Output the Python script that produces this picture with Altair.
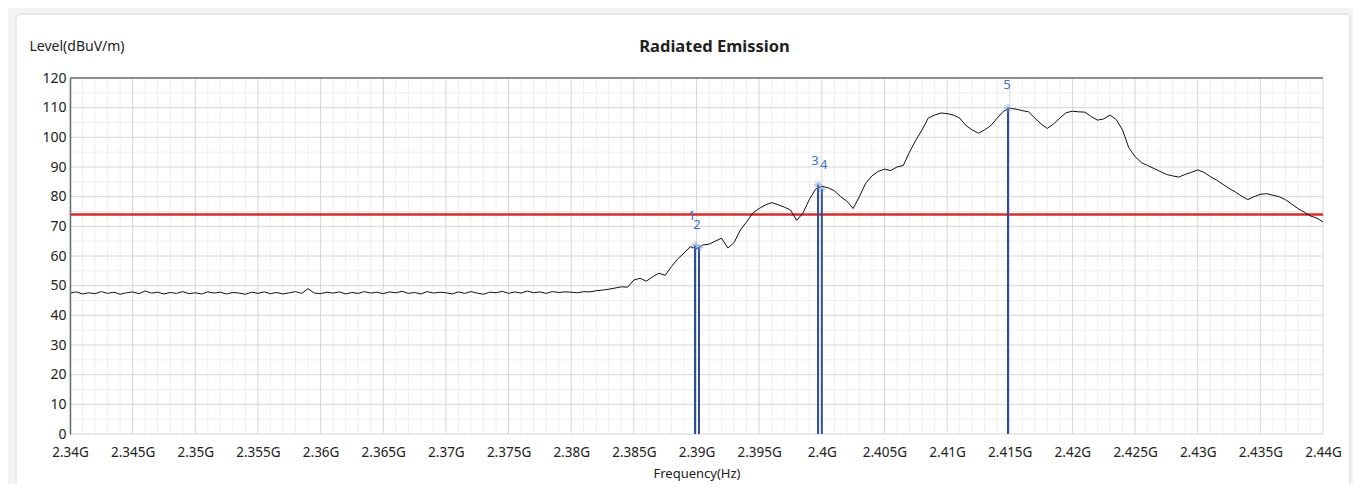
import altair as alt
import pandas as pd

# ---------------- data ----------------
FREQ_START = 2.340   # GHz
FREQ_STEP = 0.0005   # GHz sampling of the trace

level = [
    # 2.340 - 2.3445
    47.5, 47.9, 47.2, 47.6, 47.3, 48.0, 47.4, 47.8, 47.1, 47.6,
    # 2.345
    47.9, 47.3, 48.2, 47.5, 47.8, 47.2, 47.7, 47.4, 48.0, 47.3,
    # 2.350
    47.6, 47.2, 47.9, 47.5, 47.8, 47.2, 47.7, 47.5, 47.1, 47.8,
    # 2.355
    47.4, 47.9, 47.3, 47.7, 47.2, 47.6, 48.0, 47.4, 49.0, 47.5,
    # 2.360
    47.3, 47.8, 47.5, 47.9, 47.2, 47.7, 47.4, 48.0, 47.5, 47.8,
    # 2.365
    47.3, 47.9, 47.6, 48.1, 47.4, 47.7, 47.2, 48.0, 47.5, 47.8,
    # 2.370
    47.6, 47.2, 47.9, 47.4, 48.0, 47.5, 47.1, 47.8, 47.6, 48.1,
    # 2.375
    47.4, 47.9, 47.5, 48.2, 47.6, 47.9, 47.4, 48.0, 47.7, 47.9,
    # 2.380
    47.8, 47.6, 48.0, 47.9, 48.3, 48.5, 48.8, 49.2, 49.6, 49.5,
    # 2.385
    51.9, 52.5, 51.5, 53.0, 54.2, 53.5, 56.4, 59.0, 61.0, 63.1,
    # 2.390
    62.5, 63.7, 64.0, 65.0, 66.0, 62.7, 64.5, 68.8, 71.5, 74.5,
    # 2.395
    76.0, 77.2, 78.0, 77.3, 76.5, 75.5, 72.0, 74.5, 79.0, 82.5,
    # 2.400
    83.5, 83.0, 82.0, 80.0, 78.5, 76.0, 80.0, 84.5, 87.0, 88.5,
    # 2.405
    89.3, 88.8, 90.0, 90.5, 95.0, 99.0, 102.5, 106.5, 107.5, 108.2,
    # 2.410
    108.0, 107.5, 106.5, 104.0, 102.5, 101.4, 102.5, 104.0, 106.5, 108.8,
    # 2.415
    109.8, 109.5, 109.0, 108.6, 106.5, 104.5, 103.0, 104.5, 106.5, 108.3,
    # 2.420
    108.8, 108.6, 108.5, 107.0, 105.8, 106.2, 107.5, 106.0, 102.5, 96.5,
    # 2.425
    93.5, 91.5, 90.5, 89.5, 88.5, 87.5, 87.0, 86.6, 87.5, 88.2,
    # 2.430
    89.0, 88.2, 86.8, 85.6, 84.2, 82.8, 81.6, 80.2, 79.0, 80.0,
    # 2.435
    80.8, 81.0, 80.5, 80.0, 79.0, 77.5, 76.0, 74.8, 73.5, 72.8,
    # 2.440
    71.5,
]
freq = [round(FREQ_START + i * FREQ_STEP, 4) for i in range(len(level))]

marker_ids = ["1", "2", "3", "4", "5"]
marker_freq = [2.38988, 2.39020, 2.39970, 2.40000, 2.41486]
marker_level = [63.5, 62.8, 84.0, 82.5, 109.8]

limit_level = [74]

x_major = [round(2.34 + 0.005 * i, 3) for i in range(21)]
x_minor = [round(2.34 + 0.001 * i, 3) for i in range(101) if i % 5 != 0]
y_major = list(range(0, 121, 10))
y_minor = list(range(5, 120, 10))
y_top = [120]

# ---------------- chart ----------------
FONT = "Noto Sans"
W, H = 1253, 356

xs = alt.Scale(domain=[2.34, 2.44], nice=False, zero=False)
ys = alt.Scale(domain=[0, 120], nice=False, zero=False)

x_axis = alt.Axis(
    values=x_major,
    labelExpr="format(datum.value, '.3~f') + 'G'",
    title="Frequency(Hz)",
    grid=False,
    ticks=False,
    domain=False,
    labelPadding=11,
    titlePadding=9,
    labelFontSize=13.5,
    titleFontSize=13,
    titleFontWeight="normal",
    labelColor="#222222",
    titleColor="#222222",
    labelFont=FONT,
    titleFont=FONT,
    labelOverlap=False,
    labelFlush=False,
    labelBound=False,
    zindex=1,
)
y_axis = alt.Axis(
    values=y_major,
    grid=False,
    ticks=False,
    domain=True,
    domainColor="#6e6e6e",
    domainWidth=1.5,
    labelPadding=4,
    labelFontSize=14,
    labelColor="#222222",
    labelFont=FONT,
    title="Level(dBuV/m)",
    titleAngle=0,
    titleX=-41,
    titleY=-32,
    titleAlign="left",
    titleBaseline="middle",
    titleFontWeight="normal",
    titleFontSize=14,
    titleColor="#222222",
    titleFont=FONT,
    zindex=1,
)


def X(field):
    return alt.X(field, scale=xs, axis=x_axis)


def Y(field):
    return alt.Y(field, scale=ys, axis=y_axis)


trace_df = pd.DataFrame({"freq": freq, "level": level})
marker_df = pd.DataFrame({"id": marker_ids, "freq": marker_freq, "level": marker_level})

# white panel behind the chart (pure decoration, pixel offsets from plot origin)
panel = alt.Chart(pd.DataFrame({"a": [0]})).mark_rect(
    fill="#ffffff", stroke="#dadada", strokeWidth=1, cornerRadius=5
).encode(
    x=alt.value(-54), x2=alt.value(1280), y=alt.value(-64), y2=alt.value(409)
)

minor_v = alt.Chart(pd.DataFrame({"freq": x_minor})).mark_rule(
    color="#eeeeee", strokeWidth=1
).encode(x=X("freq:Q"))

major_v = alt.Chart(pd.DataFrame({"freq": x_major})).mark_rule(
    color="#d6d6d6", strokeWidth=1
).encode(x=X("freq:Q"))

minor_h = alt.Chart(pd.DataFrame({"level": y_minor})).mark_rule(
    color="#eeeeee", strokeWidth=1
).encode(y=Y("level:Q"))

major_h = alt.Chart(pd.DataFrame({"level": y_major})).mark_rule(
    color="#d6d6d6", strokeWidth=1
).encode(y=Y("level:Q"))

limit = alt.Chart(pd.DataFrame({"level": limit_level})).mark_rule(
    color="#d42c2c", strokeWidth=2.5
).encode(y=Y("level:Q"))

top_border = alt.Chart(pd.DataFrame({"level": y_top})).mark_rule(
    color="#6e6e6e", strokeWidth=1.5
).encode(y=Y("level:Q"))

trace = alt.Chart(trace_df).mark_line(color="#111111", strokeWidth=1).encode(
    x=X("freq:Q"), y=Y("level:Q")
)

marker_lines = alt.Chart(marker_df).mark_rule(color="#2c4c9c", strokeWidth=2).encode(
    x=X("freq:Q"), y=Y("level:Q"), y2=alt.datum(0)
)

STAR = "M-1,0L1,0M0,-1L0,1M-0.7,-0.7L0.7,0.7M-0.7,0.7L0.7,-0.7"
marker_pts = alt.Chart(marker_df).mark_point(
    shape=STAR, filled=False, size=70, color="#6b93d6", strokeWidth=1
).encode(x=X("freq:Q"), y=Y("level:Q"))

# label nudges (pixels) per marker id
label_nudge = {"1": (-3, -30), "2": (-2, -23), "3": (-3, -24), "4": (2, -24), "5": (-1, -23)}
label_layers = []
for mid, (ddx, ddy) in label_nudge.items():
    label_layers.append(
        alt.Chart(marker_df)
        .transform_filter(alt.datum.id == mid)
        .mark_text(dx=ddx, dy=ddy, color="#4070c0", fontSize=13, font=FONT)
        .encode(x=X("freq:Q"), y=Y("level:Q"), text="id:N")
    )

chart = (
    alt.layer(panel, minor_v, minor_h, major_v, major_h, limit, trace, marker_lines,
              marker_pts, *label_layers, top_border)
    .properties(
        width=W,
        height=H,
        title=alt.TitleParams(
            "Radiated Emission",
            fontSize=16.5,
            fontWeight="bold",
            font=FONT,
            color="#222222",
            anchor="middle",
            frame="group",
            dx=18,
            dy=62,
            offset=20,
        ),
        autosize=alt.AutoSizeParams(type="none"),
        padding={"left": 62, "top": 70, "right": 30, "bottom": 50},
        background="#f3f3f3",
    )
    .configure_view(stroke="#c4c4c4", strokeWidth=1)
)

chart.save("out.html", embed_options={"renderer": "svg", "actions": False})
